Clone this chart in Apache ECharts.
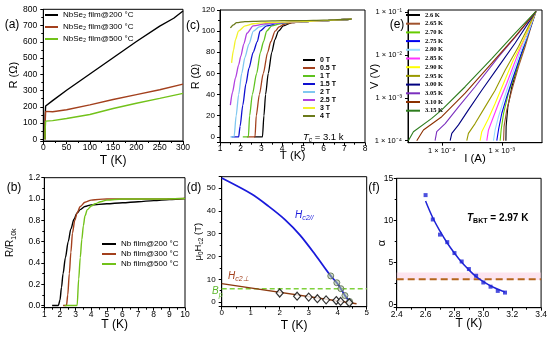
<!DOCTYPE html>
<html><head><meta charset="utf-8">
<script src="https://cdn.jsdelivr.net/npm/echarts@6/dist/echarts.min.js"></script>
<style>html,body{margin:0;padding:0;background:#fff}#c{width:550px;height:339px}</style>
</head><body><div id="c"></div>
<script>
const FF = 'Arial, "Liberation Sans", Helvetica, sans-serif';
const SERIF = '"Times New Roman", "Liberation Serif", serif';

// ---------- (a) R vs T, NbSe2 films ----------
const aNames = ['NbSe₂ film@200 °C', 'NbSe₂ film@300 °C', 'NbSe₂ film@500 °C'];
const aColors = ['#000000', '#a3401d', '#72c21a'];
const aT200 = [3.5, 4, 5, 20, 50, 100, 150, 200, 250, 280, 300];
const aR200 = [0, 150, 205, 238, 302, 402, 502, 602, 697, 745, 790];
const aT300 = [3.5, 4, 5, 20, 50, 100, 150, 200, 250, 300];
const aR300 = [0, 100, 172, 170, 182, 212, 245, 275, 305, 340];
const aT500 = [3.5, 4, 5, 20, 50, 100, 150, 200, 250, 300];
const aR500 = [0, 60, 112, 115, 128, 153, 190, 222, 252, 283];

// ---------- (b) R/R10k vs T, Nb films ----------
const bNames = ['Nb film@200 °C', 'Nb film@300 °C', 'Nb film@500 °C'];
const bColors = ['#000000', '#a3401d', '#72c21a'];
const bT200 = [1.5, 1.9, 2.0, 2.1, 2.2, 2.35, 2.53, 2.7, 2.9, 3.1, 3.3, 3.6, 4.0, 5, 6, 7, 8, 9, 10];
const bR200 = [0, 0, 0.05, 0.17, 0.3, 0.45, 0.6, 0.72, 0.81, 0.87, 0.9, 0.93, 0.945, 0.955, 0.965, 0.975, 0.985, 0.995, 1.005];
const bT300 = [2.2, 2.42, 2.5, 2.6, 2.7, 2.8, 2.95, 3.1, 3.3, 3.6, 4.0, 4.5, 5, 6, 8, 10];
const bR300 = [0, 0, 0.1, 0.3, 0.5, 0.68, 0.8, 0.87, 0.93, 0.97, 0.99, 0.997, 1.0, 1.0, 1.0, 1.005];
const bT500 = [2.3, 3.1, 3.2, 3.3, 3.4, 3.5, 3.6, 3.75, 4.0, 4.25, 4.6, 5, 6, 8, 10];
const bR500 = [0, 0, 0.25, 0.45, 0.62, 0.75, 0.84, 0.9, 0.935, 0.955, 0.975, 0.99, 1.0, 1.0, 1.005];

// ---------- (c) R vs T under field ----------
const cNames = ['0 T', '0.5 T', '1 T', '1.5 T', '2 T', '2.5 T', '3 T', '4 T'];
const cColors = ['#000000', '#a3401d', '#5fc21f', '#1010d0', '#80c8f0', '#b040e0', '#f2f22a', '#6b7a1a'];
const cT = [
  [2.65, 3.05, 3.12, 3.2, 3.33, 3.5, 3.65, 3.82, 4.06, 4.46, 5, 6, 7, 7.35],
  [2.3, 2.69, 2.75, 2.9, 3.09, 3.3, 3.45, 3.66, 3.85, 4.1, 4.5, 5, 6, 7, 7.35],
  [2.1, 2.37, 2.43, 2.56, 2.77, 2.95, 3.1, 3.25, 3.5, 3.9, 4.5, 5, 6, 7, 7.35],
  [1.56, 1.9, 1.97, 2.1, 2.25, 2.4, 2.6, 2.8, 2.93, 3.25, 3.8, 4.5, 5, 6, 7, 7.35],
  [1.5, 1.68, 1.78, 1.9, 2.05, 2.2, 2.4, 2.61, 2.9, 3.3, 4, 4.5, 5, 6, 7, 7.35],
  [1.5, 1.6, 1.75, 1.9, 2.0, 2.15, 2.3, 2.6, 3.2, 4, 4.5, 5, 6, 7, 7.35],
  [1.56, 1.65, 1.75, 1.89, 2.21, 2.6, 3.2, 4, 4.5, 5, 6, 7, 7.35],
  [1.5, 1.65, 1.8, 2.2, 3, 4, 5, 6, 7, 7.35]
];
const cR = [
  [0, 0, 20, 40, 60, 80, 92, 100, 105, 108, 109, 110, 111, 111.5],
  [0, 0, 20, 40, 60, 80, 90, 100, 104, 106.5, 108, 109, 110, 111, 111.5],
  [0, 0, 20, 40, 60, 80, 90, 100, 105, 107, 108.5, 109, 110, 111, 111.5],
  [0, 0, 10, 30, 50, 65, 80, 90, 100, 105, 107.5, 108.5, 109, 110, 111, 111.5],
  [0, 0, 20, 40, 60, 75, 88, 100, 104, 106.5, 108, 108.5, 109, 110, 111, 111.5],
  [30, 42, 56, 68, 76, 88, 98, 105, 107, 108, 108.5, 109, 110, 111, 111.5],
  [70, 82, 92, 100, 105, 107, 108, 108.5, 108.7, 109, 110, 111, 111.5],
  [103, 106, 108, 109, 109.5, 110, 110, 110.5, 111, 111.5]
];

// ---------- (d) critical fields ----------
const dParT = [0, 1.03, 1.61, 2.18, 2.70, 3.22, 3.76, 3.97, 4.11, 4.25, 4.43];
const dParH = [54.4, 47.4, 42.1, 36.2, 29.4, 20.9, 11.5, 8.5, 5.9, 2.9, 0];
const dCircT = [3.76, 3.97, 4.11, 4.25, 4.41];
const dCircH = [11.5, 8.5, 5.9, 2.9, 0.3];
const dPerpLineT = [0, 4.65];
const dPerpLineH = [8.1, -0.7];
const dDiaT = [2.0, 2.6, 3.0, 3.3, 3.6, 3.95, 4.1, 4.4];
const dDiaH = [4.0, 2.6, 2.2, 1.5, 1.0, 0.7, 0.3, -0.3];
const dBpT = [0, 5];
const dBpH = [5.9, 5.9];

// ---------- (e) V-I, log-log ----------
const eNames = ['2.6 K', '2.65 K', '2.70 K', '2.75 K', '2.80 K', '2.85 K', '2.90 K', '2.95 K', '3.00 K', '3.05 K', '3.10 K', '3.15 K'];
const eColors = ['#000000', '#a0522d', '#66cc00', '#0000ee', '#99ddff', '#ff33ff', '#ffff00', '#999900', '#000080', '#7b2fbe', '#8b3000', '#2e7d1e'];
const eI = [
  [1.17e-3, 1.18e-3, 1.26e-3, 1.47e-3, 1.90e-3, 2.45e-3, 2.96e-3, 3.7e-3],
  [1.07e-3, 1.09e-3, 1.21e-3, 1.47e-3, 1.90e-3, 2.45e-3, 2.96e-3, 3.7e-3],
  [9.38e-4, 9.75e-4, 1.07e-3, 1.29e-3, 1.67e-3, 2.15e-3, 2.78e-3, 3.7e-3],
  [8.25e-4, 8.8e-4, 1.0e-3, 1.21e-3, 1.56e-3, 2.02e-3, 2.78e-3, 3.7e-3],
  [7.26e-4, 7.74e-4, 8.8e-4, 1.07e-3, 1.38e-3, 1.90e-3, 2.61e-3, 3.7e-3],
  [5.62e-4, 6.0e-4, 7.26e-4, 8.8e-4, 1.21e-3, 1.78e-3, 2.45e-3, 3.7e-3],
  [4.35e-4, 4.64e-4, 6.0e-4, 7.74e-4, 1.07e-3, 1.56e-3, 2.30e-3, 3.7e-3],
  [2.61e-4, 2.78e-4, 3.59e-4, 5.27e-4, 7.74e-4, 1.14e-3, 1.90e-3, 3.7e-3],
  [1.38e-4, 1.47e-4, 1.90e-4, 2.78e-4, 4.64e-4, 8.8e-4, 1.67e-3, 3.7e-3],
  [7.74e-5, 8.25e-5, 1.14e-4, 1.90e-4, 3.59e-4, 8.8e-4, 1.90e-3, 3.7e-3],
  [3.83e-5, 4.95e-5, 1.0e-4, 2.45e-4, 6.81e-4, 1.67e-3, 3.7e-3],
  [2.78e-5, 3.37e-5, 6.81e-5, 1.0e-4, 2.45e-4, 6.81e-4, 1.67e-3, 3.7e-3]
];
const eV = [
  [1.0e-4, 2.14e-4, 6.17e-4, 1.82e-3, 6.46e-3, 1.91e-2, 4.27e-2, 0.105],
  [1.0e-4, 2.14e-4, 5.25e-4, 1.51e-3, 5.37e-3, 1.58e-2, 3.89e-2, 0.105],
  [1.0e-4, 1.78e-4, 4.37e-4, 1.29e-3, 3.72e-3, 1.10e-2, 3.24e-2, 0.105],
  [1.0e-4, 1.78e-4, 4.37e-4, 1.07e-3, 3.16e-3, 9.1e-3, 3.24e-2, 0.105],
  [1.0e-4, 1.78e-4, 3.63e-4, 8.9e-4, 2.63e-3, 9.1e-3, 2.69e-2, 0.105],
  [1.0e-4, 1.78e-4, 3.63e-4, 7.41e-4, 2.19e-3, 9.1e-3, 2.69e-2, 0.105],
  [1.0e-4, 1.62e-4, 3.31e-4, 7.41e-4, 2.19e-3, 7.76e-3, 2.24e-2, 0.105],
  [1.0e-4, 1.48e-4, 2.51e-4, 6.17e-4, 1.51e-3, 4.47e-3, 1.58e-2, 0.105],
  [1.0e-4, 1.48e-4, 2.34e-4, 5.25e-4, 1.51e-3, 5.37e-3, 1.91e-2, 0.105],
  [1.0e-4, 1.62e-4, 2.51e-4, 6.17e-4, 1.82e-3, 9.1e-3, 3.24e-2, 0.105],
  [1.0e-4, 1.78e-4, 3.63e-4, 1.29e-3, 6.46e-3, 2.69e-2, 0.105],
  [1.0e-4, 1.62e-4, 3.31e-4, 5.25e-4, 1.82e-3, 8.3e-3, 3.24e-2, 0.105]
];

// ---------- (f) alpha vs T ----------
const fT = [2.6, 2.65, 2.7, 2.75, 2.8, 2.85, 2.9, 2.95, 3.0, 3.05, 3.1, 3.15];
const fAlpha = [13.0, 10.1, 8.3, 7.4, 6.1, 5.1, 4.2, 3.4, 2.6, 2.1, 1.6, 1.4];
const fFitT = [2.6, 2.65, 2.7, 2.75, 2.8, 2.85, 2.9, 2.95, 3.0, 3.05, 3.1, 3.15];
const fFitA = [12.3, 10.3, 8.7, 7.3, 6.1, 5.0, 4.1, 3.3, 2.7, 2.2, 1.8, 1.45];
const fBktT = [2.4, 3.4];
const fBktA = [3, 3];

// ---------- helpers ----------
const pairs = (xs, ys) => xs.map((x, i) => [x, ys[i]]);
const clean = o => { Object.keys(o).forEach(k => o[k] === undefined && delete o[k]); return o; };
const SUP = {'-': '⁻', '0': '⁰', '1': '¹', '2': '²', '3': '³', '4': '⁴', '5': '⁵', '6': '⁶', '7': '⁷', '8': '⁸', '9': '⁹'};
const logFmt = v => { const e = Math.log10(v); const r = Math.round(e);
  return Math.abs(e - r) < 1e-6 ? '1 × 10' + String(r).split('').map(c => SUP[c]).join('') : ''; };

function axis(g, o, isY) {
  return clean({
    type: o.type || 'value', gridIndex: g, min: o.min, max: o.max,
    interval: o.interval, minInterval: o.minInterval, maxInterval: o.maxInterval,
    name: o.name, nameLocation: 'middle', nameGap: o.nameGap, nameMoveOverlap: false,
    nameTextStyle: Object.assign({color: '#000', fontFamily: FF, fontSize: 12}, o.nameStyle || {}),
    axisLine: {show: true, onZero: false, lineStyle: {color: '#000', width: 1}},
    axisTick: {show: true, inside: false, length: 3, lineStyle: {color: '#000'}},
    minorTick: {show: o.minor !== false, splitNumber: 2, length: 2, lineStyle: {color: '#000'}},
    splitLine: {show: false},
    axisLabel: clean({color: '#000', fontFamily: FF, fontSize: o.fs || 8.5, margin: o.margin != null ? o.margin : (isY ? 5 : 2.5),
      showMinLabel: o.showMin, showMaxLabel: o.showMax, formatter: o.fmt})
  });
}
function line(name, data, color, gi, extra) {
  return Object.assign({
    type: 'line', name, data, xAxisIndex: gi, yAxisIndex: gi, showSymbol: false, symbol: 'none',
    color, itemStyle: {color}, lineStyle: {color, width: 1.4}, animation: false, silent: true
  }, extra || {});
}
function legend(names, left, top, lh, iw, fs, font, weight) {
  return {data: names, left, top, orient: 'vertical', icon: 'rect', itemWidth: iw, itemHeight: 2,
    itemGap: 0, padding: 0, selectedMode: false,
    textStyle: {fontFamily: font, fontSize: fs, fontWeight: weight || 'normal', color: '#000', lineHeight: lh}};
}
function txt(x, y, text, st) {
  return {type: 'text', x, y, z: 100, silent: true,
    style: Object.assign({text, fill: '#000', fontFamily: FF, fontSize: 12, align: 'left', verticalAlign: 'middle'}, st || {})};
}
const richG = (fill, fs, bold) => ({
  i: {fontStyle: 'italic', fontSize: fs, lineHeight: 14, fill, fontWeight: bold ? 'bold' : 'normal', fontFamily: FF},
  s: {fontStyle: bold ? 'normal' : 'italic', fontSize: fs * 0.7, lineHeight: 7, verticalAlign: 'bottom', fill, fontWeight: bold ? 'bold' : 'normal', fontFamily: FF},
  n: {fontSize: fs, lineHeight: 14, fill, fontWeight: bold ? 'bold' : 'normal', fontFamily: FF}
});

const series = [];
[[aT200, aR200], [aT300, aR300], [aT500, aR500]].forEach((d, k) => series.push(line(aNames[k], pairs(d[0], d[1]), aColors[k], 0)));
[[bT200, bR200], [bT300, bR300], [bT500, bR500]].forEach((d, k) => series.push(line(bNames[k], pairs(d[0], d[1]), bColors[k], 1, {smooth: 0.3, smoothMonotone: 'x'})));
cNames.forEach((n, k) => series.push(line(n, pairs(cT[k], cR[k]), cColors[k], 2, {smooth: 0.25, smoothMonotone: 'x', lineStyle: {color: cColors[k], width: 1.3}})));
series.push(line('Bp', pairs(dBpT, dBpH), '#7fd13b', 3, {lineStyle: {color: '#7fd13b', width: 1.4, type: [5, 3]}}));
series.push(line('Hc2par', pairs(dParT, dParH), '#1a1adb', 3, {smooth: 0.3, lineStyle: {color: '#1a1adb', width: 1.8}}));
series.push({type: 'scatter', name: 'Hc2parPts', data: pairs(dCircT, dCircH), xAxisIndex: 3, yAxisIndex: 3, symbol: 'circle', symbolSize: 6,
  itemStyle: {color: 'rgba(170,195,150,0.7)', borderColor: '#55684a', borderWidth: 1}, animation: false, silent: true, z: 5});
series.push(line('Hc2perp', pairs(dPerpLineT, dPerpLineH), '#8b3a10', 3, {lineStyle: {color: '#8b3a10', width: 1.4}}));
series.push({type: 'scatter', name: 'Hc2perpPts', data: pairs(dDiaT, dDiaH), xAxisIndex: 3, yAxisIndex: 3, symbol: 'diamond', symbolSize: [7, 8],
  itemStyle: {color: '#ffffff', borderColor: '#000', borderWidth: 1.2}, animation: false, silent: true, z: 6});
eNames.forEach((n, k) => series.push(line(n, pairs(eI[k], eV[k]), eColors[k], 4, {lineStyle: {color: eColors[k], width: 1.1}})));
series.push(line('alpha3', pairs(fBktT, fBktA), '#b5651d', 5, {lineStyle: {color: '#b5651d', width: 2, type: [7, 4]},
  markArea: {silent: true, itemStyle: {color: 'rgba(252,205,228,0.55)'}, data: [[{yAxis: 2.9}, {yAxis: 3.8}]]}}));
series.push(line('fit', pairs(fFitT, fFitA), '#1f24d6', 5, {smooth: 0.4, lineStyle: {color: '#1f24d6', width: 1.5}}));
series.push({type: 'scatter', name: 'alphaPts', data: pairs(fT, fAlpha), xAxisIndex: 5, yAxisIndex: 5, symbol: 'rect', symbolSize: 4,
  itemStyle: {color: '#1f24d6'}, animation: false, silent: true, z: 6});

const gridBase = {show: true, borderColor: '#000', borderWidth: 1, backgroundColor: 'transparent', containLabel: false};
const option = {
  animation: false,
  backgroundColor: '#fff',
  textStyle: {fontFamily: FF},
  grid: [
    Object.assign({left: 43.3, top: 9.3, width: 139.7, height: 131.7}, gridBase),
    Object.assign({left: 44.3, top: 177.7, width: 140.7, height: 130}, gridBase),
    Object.assign({left: 220, top: 10, width: 145, height: 132.7}, gridBase),
    Object.assign({left: 221.7, top: 176.7, width: 145, height: 130}, gridBase),
    Object.assign({left: 408, top: 10, width: 134, height: 132.7}, gridBase),
    Object.assign({left: 396.7, top: 178.3, width: 148.3, height: 129.4}, gridBase)
  ],
  xAxis: [
    axis(0, {min: 0, max: 300, minInterval: 50, maxInterval: 50, name: 'T (K)', nameGap: 14}),
    axis(1, {min: 1, max: 10, interval: 1, name: 'T (K)', nameGap: 10.5}),
    axis(2, {min: 1, max: 8, interval: 1, name: 'T (K)', nameGap: 7, margin: 1.5, nameStyle: {fontSize: 11.5}}),
    axis(3, {min: 0, max: 5, interval: 1, name: 'T (K)', nameGap: 13, fs: 8, margin: 2}),
    axis(4, {type: 'log', min: 2.74e-5, max: 4.67e-3, name: 'I (A)', nameGap: 10.5, fmt: logFmt, minor: false, fs: 7.5, margin: 4, showMin: false, showMax: false, nameStyle: {fontSize: 11.5}}),
    axis(5, {min: 2.4, max: 3.4, interval: 0.2, name: 'T (K)', nameGap: 10, margin: 2, fmt: v => v.toFixed(1)})
  ],
  yAxis: [
    axis(0, {min: -10, max: 800, minInterval: 100, maxInterval: 100, name: 'R (Ω)', nameGap: 24, showMin: false, margin: 6, nameStyle: {fontSize: 11}}, true),
    axis(1, {min: -0.02, max: 1.2, minInterval: 0.2, maxInterval: 0.2, name: 'R/R{s|10k}', nameGap: 27, fmt: v => v.toFixed(1), showMin: false, margin: 4,
      nameStyle: {fontSize: 10, lineHeight: 14, rich: {s: {fontSize: 7, lineHeight: 7, verticalAlign: 'bottom', fontFamily: FF, color: '#000'}}}}, true),
    axis(2, {min: -5.5, max: 120, minInterval: 20, maxInterval: 20, name: 'R (Ω)', nameGap: 18, showMin: false, margin: 5, fs: 8, nameStyle: {fontSize: 10.5}}, true),
    axis(3, {min: -2, max: 55, minInterval: 10, maxInterval: 10, name: 'μ{s|0}H{s|c2} (T)', nameGap: 17, showMin: false, showMax: false, margin: 6, fs: 8,
      nameStyle: {fontSize: 9.5, lineHeight: 13, rich: {s: {fontSize: 6.5, lineHeight: 6, verticalAlign: 'bottom', fontFamily: FF, color: '#000'}}}}, true),
    axis(4, {type: 'log', min: 8.97e-5, max: 0.113, name: 'V (V)', nameGap: 28, fmt: logFmt, minor: false, fs: 7.5, showMin: false, showMax: false, margin: 6, nameStyle: {fontSize: 11}}, true),
    axis(5, {min: -0.4, max: 15, minInterval: 5, maxInterval: 5, name: 'α', nameGap: 9, showMin: false, margin: 3.5, nameStyle: {fontSize: 11}}, true)
  ],
  legend: [
    legend(aNames, 45, 9, 12, 13, 8, FF),
    legend(bNames, 102, 239, 10, 14, 8, FF),
    legend(cNames, 303, 56, 8, 12, 7, FF, 'bold'),
    legend(eNames, 406, 10.65, 8.7, 14, 6.5, SERIF, 'bold')
  ],
  graphic: {elements: [
    txt(12, 25, '(a)', {align: 'center'}),
    txt(14, 188, '(b)', {align: 'center'}),
    txt(193, 26, '(c)', {align: 'center'}),
    txt(194, 188, '(d)', {align: 'center'}),
    txt(397, 25, '(e)', {align: 'center'}),
    txt(374, 188, '(f)', {align: 'center'}),
    txt(303, 137, '{i|T}{s|c}{n| = 3.1 k}', {rich: richG('#000', 9.5)}),
    txt(467, 218, '{i|T}{s|BKT}{n| = 2.97 K}', {rich: richG('#000', 10, true)}),
    txt(295, 215, '{i|H}{s|c2//}', {rich: richG('#1a1adb', 10)}),
    txt(228, 276, '{i|H}{s|c2⊥}', {rich: richG('#a3401d', 10)}),
    txt(212, 291.5, '{i|B}{s|p}', {rich: richG('#5cb82a', 10)})
  ]},
  series
};
const chart = echarts.init(document.getElementById('c'), null, {renderer: 'canvas'});
chart.setOption(option);
</script>
</body></html>
